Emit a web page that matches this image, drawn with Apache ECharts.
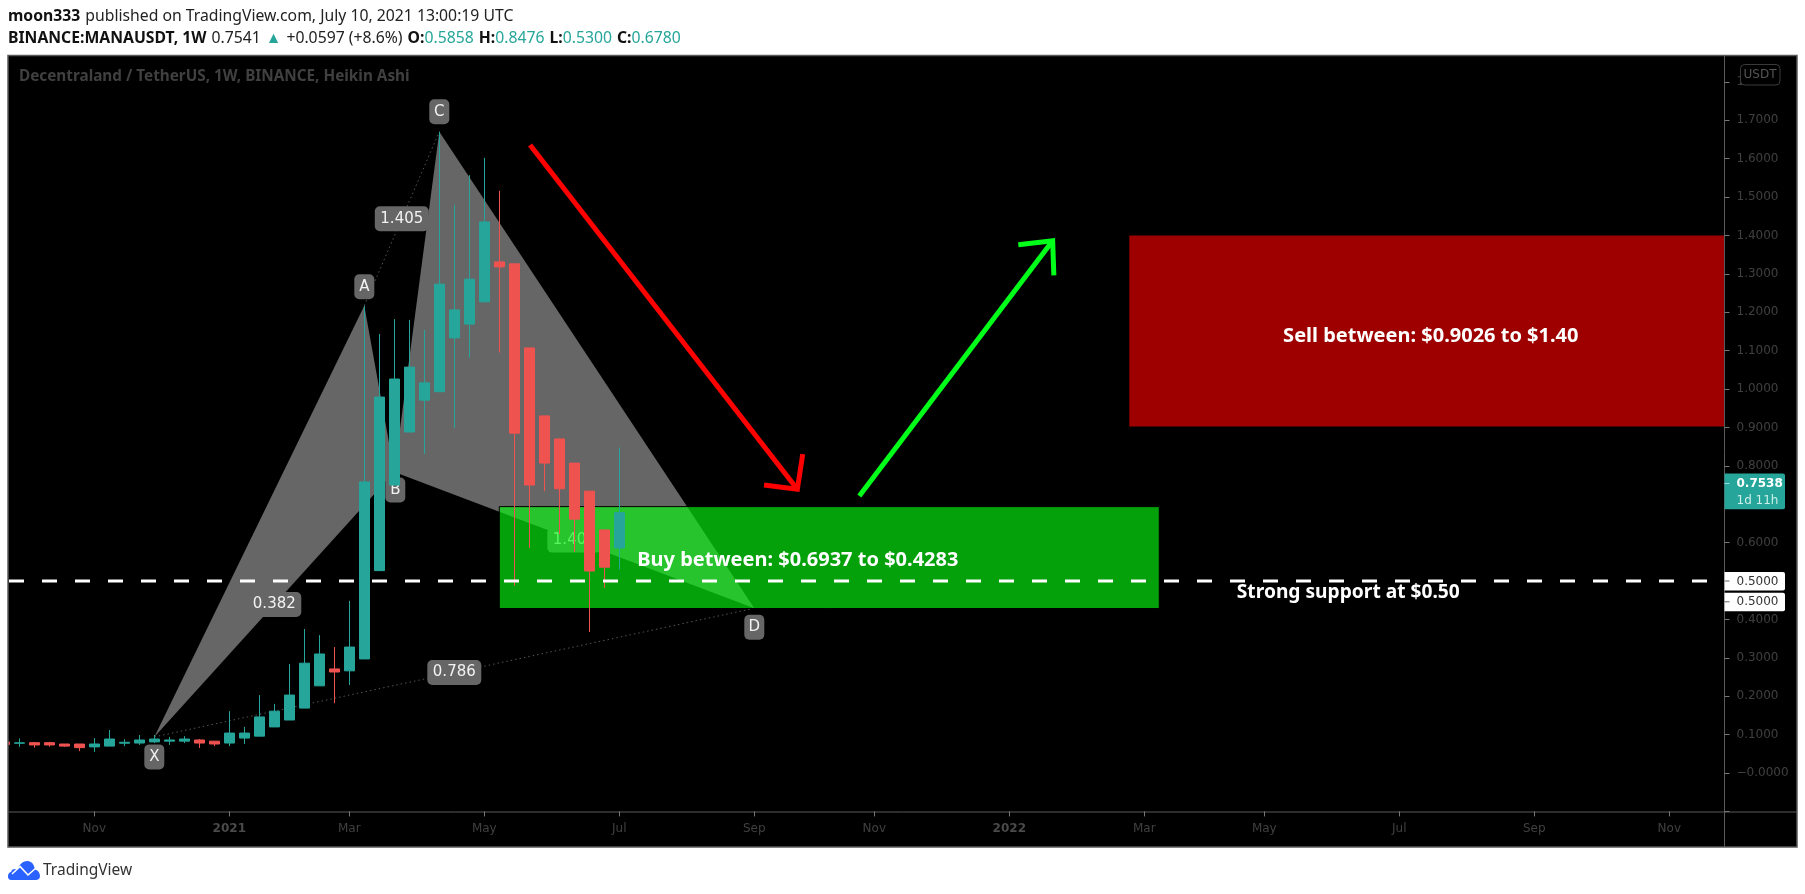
<!DOCTYPE html>
<html>
<head>
<meta charset="utf-8">
<title>MANAUSDT</title>
<style>html,body{margin:0;padding:0;background:#fff;}#c{width:1805px;height:894px;}</style>
<script src="https://cdn.jsdelivr.net/npm/echarts@6/dist/echarts.min.js"></script>
</head>
<body>
<div id="c"></div>
<script>
// Weekly candles (Heikin Ashi)
const opens  = [.081,.0775,.079,.079,.0755,.0755,.068,.070,.0775,.078,.081,.083,.083,.086,.083,.078,.091,.096,.120,.138,.169,.227,.271,.266,.297,.527,.750,.888,.971,.993,1.133,1.169,1.227,1.331,1.326,1.107,.930,.870,.807,.734,.633,.5858];
const closes = [.074,.0785,.073,.073,.070,.066,.0755,.0885,.080,.086,.0885,.086,.0885,.078,.0755,.104,.104,.146,.161,.203,.286,.310,.263,.328,.758,.979,1.026,1.057,1.016,1.273,1.206,1.286,1.435,1.318,.885,.750,.807,.740,.661,.526,.536,.6780];
const lows   = [.072,.068,.066,.0685,.068,.057,.055,.070,.070,.073,.078,.073,.078,.065,.070,.070,.0755,.096,.120,.138,.169,.227,.182,.229,.297,.527,.750,.888,.831,.993,.898,1.081,1.227,1.095,.487,.586,.734,.622,.5755,.367,.482,.5300];
const highs  = [.082,.090,.081,.081,.0755,.0755,.091,.112,.088,.099,.099,.094,.096,.0885,.083,.161,.120,.203,.180,.284,.375,.359,.328,.448,1.217,1.143,1.182,1.180,1.154,1.670,1.479,1.557,1.602,1.516,1.326,1.107,.930,.870,.807,.734,.633,.8476];

// Weekly axis categories (Mondays) and labelled weeks
const firstWeek = Date.UTC(2020, 8, 21);
const weekCount = 116;
const categories = [];
for (let i = 0; i < weekCount; i++) categories.push(new Date(firstWeek + i * 7 * 864e5).toISOString().slice(0, 10));
const tickDates  = ['2020-11-02','2021-01-04','2021-03-01','2021-05-03','2021-07-05','2021-09-06','2021-11-01','2022-01-03','2022-03-07','2022-05-02','2022-07-04','2022-09-05','2022-11-07'];
const tickLabels = ['Nov','2021','Mar','May','Jul','Sep','Nov','2022','Mar','May','Jul','Sep','Nov'];

// XABCD harmonic pattern
const patternNames = ['X','A','B','C','D'];
const patternWeeks = [10,24,26,29,50];
const patternVals  = [.094,1.217,.784,1.670,.429];

// Zones
const buyZone  = {from:33,to:77,top:.6937,bottom:.4283};
const sellZone = {from:75,to:115,top:1.40,bottom:.9026};
const supportPrice = 0.5;
const lastPrice = 0.7538;

// Arrows: [week, value] polylines
const redArrowShaft = [[35.05,1.6354],[52.87,.7388]];
const redArrowHead  = [[53.23,.8307],[52.87,.7388],[50.65,.7500]];
const greenArrowShaft = [[57.0,.7213],[69.89,1.3861]];
const greenArrowHead  = [[67.6,1.3757],[69.89,1.3861],[69.97,1.2961]];

const SANS = '"Noto Sans", sans-serif';
const DJ = '"DejaVu Sans", sans-serif';
const TEAL = '#26a69a', RED = '#ef5350', GREY = '#666666';
const AXIS_X = 1724.5;

function pt(api, fi, v) {
  const i = Math.floor(fi);
  const a = api.coord([i, v]);
  const b = api.coord([i + 1, v]);
  return [a[0] + (fi - i) * (b[0] - a[0]), a[1]];
}
function badge(cx, cy, w, txt) {
  return [
    {type:'rect', shape:{x:cx - w / 2, y:cy - 12.5, width:w, height:25, r:5}, style:{fill:GREY}},
    {type:'text', style:{x:cx, y:cy, text:txt, fill:'#f2f2f2', font:'15px ' + DJ, align:'center', verticalAlign:'middle'}}
  ];
}
function renderPattern(params, api) {
  const p = patternWeeks.map((w, i) => pt(api, w, patternVals[i]));
  const [X, A, B, C, D] = p;
  const mid = (a, b) => [(a[0] + b[0]) / 2, (a[1] + b[1]) / 2];
  const dot = (a, b) => ({type:'line', shape:{x1:a[0], y1:a[1], x2:b[0], y2:b[1]}, style:{stroke:'#555', lineWidth:1, lineDash:[1.5,3]}});
  let kids = [
    {type:'polygon', shape:{points:[X, A, B]}, style:{fill:GREY}},
    {type:'polygon', shape:{points:[B, C, D]}, style:{fill:GREY}},
    dot(A, C), dot(X, D)
  ];
  const mXB = mid(X, B), mAC = mid(A, C), mBD = mid(B, D), mXD = mid(X, D);
  kids = kids.concat(
    badge(mXB[0], mXB[1], 54, '0.382'),
    badge(mAC[0], mAC[1], 54, '1.405'),
    badge(mBD[0], mBD[1], 54, '1.405'),
    badge(mXD[0], mXD[1], 54, '0.786'),
    badge(X[0], X[1] + 20, 20, patternNames[0]),
    badge(A[0], A[1] - 19, 20, patternNames[1]),
    badge(B[0] + 1, B[1] + 18, 20, patternNames[2]),
    badge(C[0], C[1] - 20, 20, patternNames[3]),
    badge(D[0], D[1] + 19, 20, patternNames[4])
  );
  return {type:'group', children:kids};
}
function zoneRect(api, z, fill, stroke) {
  const a = pt(api, z.from, z.top), b = pt(api, z.to, z.bottom);
  return {type:'rect', shape:{x:a[0], y:a[1], width:b[0] - a[0], height:b[1] - a[1]}, style:{fill:fill, stroke:stroke || null, lineWidth:1}};
}
function renderZones(params, api) {
  return {type:'group', children:[
    zoneRect(api, buyZone, 'rgba(6,248,15,0.65)', '#000'),
    zoneRect(api, sellZone, '#9e0000')
  ]};
}
function renderDrawings(params, api) {
  const a = pt(api, 0, supportPrice), b = pt(api, 115, supportPrice);
  const poly = (pts, col) => ({type:'polyline', shape:{points:pts.map(q => pt(api, q[0], q[1]))}, style:{stroke:col, fill:null, lineWidth:5, lineJoin:'miter', lineCap:'butt'}});
  const txt = (fi, v, s, align, size) => {
    const c = pt(api, fi, v);
    return {type:'text', style:{x:c[0], y:c[1], text:s, fill:'#fff', font:'bold ' + size + 'px ' + SANS, align:align, verticalAlign:'middle'}};
  };
  return {type:'group', children:[
    {type:'line', shape:{x1:a[0], y1:a[1], x2:b[0], y2:b[1]}, style:{stroke:'#fff', lineWidth:3, lineDash:[15,18], lineDashOffset:28.3}},
    poly(redArrowShaft, '#ff0000'), poly(redArrowHead, '#ff0000'),
    poly(greenArrowShaft, '#00ff19'), poly(greenArrowHead, '#00ff19'),
    txt(42.2, .555, 'Buy between: $0.6937 to $0.4283', 'left', 20),
    txt(95.1, 1.138, 'Sell between: $0.9026 to $1.40', 'center', 20),
    txt(89.6, .469, 'Strong support at $0.50', 'center', 19.2)
  ]};
}
function renderPriceTags(params, api) {
  const y1 = pt(api, 0, lastPrice)[1];
  const y2 = pt(api, 0, supportPrice)[1];
  const tag = (y) => [
    {type:'rect', shape:{x:AXIS_X, y:y - 9, width:60.5, height:18.5, r:[0,2,2,0]}, style:{fill:'#fff'}},
    {type:'line', shape:{x1:AXIS_X, y1:y, x2:AXIS_X + 5, y2:y}, style:{stroke:'#666', lineWidth:1}},
    {type:'text', style:{x:1736.5, y:y + .5, text:supportPrice.toFixed(4), fill:'#333', font:'12px ' + DJ, verticalAlign:'middle'}}
  ];
  return {type:'group', children:[
    {type:'rect', shape:{x:AXIS_X, y:y1 - 10, width:60.5, height:35.7, r:[0,2,2,0]}, style:{fill:TEAL}},
    {type:'line', shape:{x1:AXIS_X, y1:y1, x2:AXIS_X + 5, y2:y1}, style:{stroke:'#9fded8', lineWidth:1}},
    {type:'text', style:{x:1736.5, y:y1 + .5, text:lastPrice.toFixed(4), fill:'#fff', font:'bold 12px ' + DJ, verticalAlign:'middle'}},
    {type:'text', style:{x:1736.5, y:y1 + 17, text:'1d 11h', fill:'#cdeeea', font:'12px ' + DJ, verticalAlign:'middle'}},
    ...tag(y2), ...tag(y2 + 20.8),
    {type:'path', shape:{pathData:'M3 19 C-1 19 -1 12 3 11 C4 8 7 8 9 9 C11 3 16 0 20 1 C24 2 25 5 26 9 C31 10 33 19 27 19 Z', layout:'cover', x:8, y:861, width:32, height:19}, style:{fill:'#2962ff'}},
    {type:'polyline', shape:{points:[[12,874],[20,866.5],[28,875],[36,868]]}, style:{stroke:'#fff', lineWidth:1.6, fill:null}}
  ]};
}

const yearRich = {y:{color:'#4a4a4a', fontWeight:'bold', fontFamily:DJ, fontSize:12}};
const n = {fontFamily:SANS, fontSize:15.75, color:'#222', fontWeight:'normal'};
const b = {fontFamily:SANS, fontSize:15.75, color:'#111', fontWeight:'bold'};
const t = {fontFamily:SANS, fontSize:15.75, color:TEAL, fontWeight:'normal'};

const chart = echarts.init(document.getElementById('c'), null, {renderer:'canvas'});
chart.setOption({
  animation:false,
  backgroundColor:'#ffffff',
  title:[
    {left:8, top:8, padding:0, text:'{b|moon333} {n|published on TradingView.com, July 10, 2021 13:00:19 UTC}', textStyle:{rich:{b:b, n:n}}},
    {left:8, top:30, padding:0, text:'{b|BINANCE:MANAUSDT, 1W} {n|0.7541} {t|▲} {n|+0.0597 (+8.6%)} {b|O:}{t|0.5858} {b|H:}{t|0.8476} {b|L:}{t|0.5300} {b|C:}{t|0.6780}', textStyle:{rich:{b:b, n:n, t:t}}}
  ],
  grid:{left:-3.2, width:15 * weekCount, top:81.8, height:729.6, containLabel:false, show:false, outerBoundsMode:'none'},
  xAxis:{
    type:'category', data:categories, boundaryGap:true, z:6,
    axisLine:{show:false, onZero:false},
    axisTick:{show:true, alignWithLabel:true, length:5, lineStyle:{color:'#777'}, interval:(i, v) => tickDates.includes(v)},
    axisLabel:{
      color:'#404040', fontFamily:DJ, fontSize:12, margin:11,
      interval:(i, v) => tickDates.includes(v),
      formatter:(v) => { const s = tickLabels[tickDates.indexOf(v)]; return /^\d+$/.test(s) ? '{y|' + s + '}' : s; },
      rich:yearRich
    },
    splitLine:{show:false}
  },
  yAxis:{
    type:'value', position:'right', offset:-12.3, min:-0.1, max:1.8, interval:0.1, z:6, scale:true,
    axisLine:{show:false},
    axisTick:{show:true, length:5, lineStyle:{color:'#777'}},
    splitLine:{show:false},
    axisLabel:{
      color:'#404040', fontFamily:DJ, fontSize:12, margin:12, showMinLabel:true, showMaxLabel:true,
      formatter:(v) => { const r = Math.round(v * 10) / 10; return r < 0 ? '' : (r === 0 ? '\u22120.0000' : r.toFixed(4)); }
    }
  },
  series:[
    {type:'custom', z:1, silent:true, data:[[0,0]], renderItem:renderPattern},
    {type:'custom', z:2, silent:true, data:[[0,0]], renderItem:renderZones},
    {type:'candlestick', z:3, silent:true, barWidth:11,
      data:opens.map((o, i) => [o, closes[i], lows[i], highs[i]]),
      itemStyle:{color:TEAL, color0:RED, borderColor:TEAL, borderColor0:RED, borderWidth:1}},
    {type:'custom', z:3.5, silent:true, data:[[0,0]], renderItem:renderDrawings},
    {type:'custom', z:7, silent:true, data:[[0,0]], renderItem:renderPriceTags}
  ],
  graphic:{elements:[
    {type:'rect', z:0, silent:true, shape:{x:8, y:55.5, width:1789, height:791.5}, style:{fill:'#000'}},
    {type:'rect', z:4, silent:true, shape:{x:0, y:50, width:8, height:800}, style:{fill:'#fff'}},
    {type:'rect', z:4, silent:true, shape:{x:AXIS_X, y:56, width:72.5, height:756}, style:{fill:'#000'}},
    {type:'rect', z:5, silent:true, shape:{x:8, y:55.5, width:1789, height:791.5}, style:{fill:null, stroke:'#5a5a5a', lineWidth:1.5}},
    {type:'line', z:5, silent:true, shape:{x1:8, y1:812, x2:1797, y2:812}, style:{stroke:'#5a5a5a', lineWidth:1}},
    {type:'line', z:5, silent:true, shape:{x1:AXIS_X, y1:56, x2:AXIS_X, y2:847}, style:{stroke:'#5a5a5a', lineWidth:1}},
    {type:'text', z:5, silent:true, style:{x:19, y:76.5, text:'Decentraland / TetherUS, 1W, BINANCE, Heikin Ashi', fill:'#404040', font:'bold 15.3px ' + SANS, verticalAlign:'middle'}},
    {type:'rect', z:8, silent:true, shape:{x:1740.5, y:64.5, width:39.5, height:20.5, r:4}, style:{fill:'#000', stroke:'#3a3a3a', lineWidth:1}},
    {type:'text', z:8, silent:true, style:{x:1760, y:75, text:'USDT', fill:'#555', font:'12px ' + DJ, align:'center', verticalAlign:'middle'}},
    {type:'text', z:5, silent:true, style:{x:43, y:870.5, text:'TradingView', fill:'#333', font:'15.5px ' + SANS, verticalAlign:'middle'}}
  ]}
});
</script>
</body>
</html>
